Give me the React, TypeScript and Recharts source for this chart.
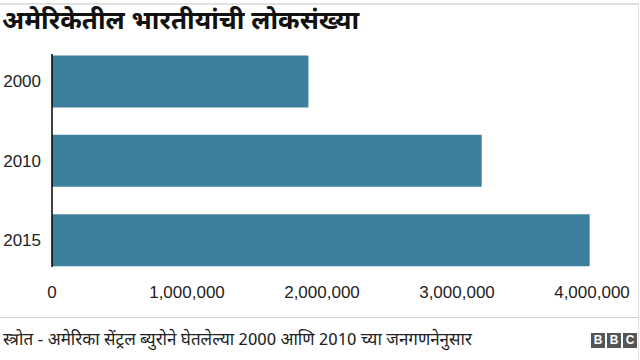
import { BarChart, Bar, XAxis, YAxis } from 'recharts';

const years = ['2000', '2010', '2015'];
const population = [1899599, 3183063, 3982398];
const xTicks = [0, 1000000, 2000000, 3000000, 4000000];

const TITLE = 'अमेरिकेतील भारतीयांची लोकसंख्या';
const SOURCE = 'स्त्रोत - अमेरिका सेंट्रल ब्युरोने घेतलेल्या 2000 आणि 2010 च्या जनगणनेनुसार';

const data = years.map((year, i) => ({ year, value: population[i] }));

const deva = '"Noto Sans Devanagari", "Noto Sans", "Liberation Sans", Arial, sans-serif';
const latin = '"Liberation Sans", Arial, Helvetica, sans-serif';

function BbcLogo() {
  return (
    <div style={{ position: 'absolute', left: 591, top: 333, display: 'flex', gap: 2 }}>
      {['B', 'B', 'C'].map((ch, i) => (
        <div
          key={i}
          style={{
            width: 14,
            height: 15,
            background: '#555',
            color: '#fff',
            fontFamily: latin,
            fontWeight: 700,
            fontSize: 12,
            lineHeight: '15px',
            textAlign: 'center',
          }}
        >
          {ch}
        </div>
      ))}
    </div>
  );
}

export default function App() {
  return (
    <div
      style={{
        position: 'absolute',
        left: 0,
        top: 0,
        width: 640,
        height: 360,
        background: '#fff',
        overflow: 'hidden',
      }}
    >
      {/* frame lines */}
      <div style={{ position: 'absolute', left: 0, top: 3, width: 639, height: 2, background: '#e0e0e0' }} />
      <div style={{ position: 'absolute', left: 638, top: 3, width: 1, height: 357, background: '#e0e0e0' }} />

      <div
        style={{
          position: 'absolute',
          left: 2,
          top: 4,
          fontFamily: deva,
          fontWeight: 700,
          fontSize: 26,
          lineHeight: '38px',
          color: '#111',
          whiteSpace: 'nowrap',
        }}
      >
        {TITLE}
      </div>

      <div style={{ position: 'absolute', left: 0, top: 0 }}>
        <BarChart
          width={640}
          height={312}
          data={data}
          layout="vertical"
          margin={{ top: 54, right: 48, left: 0, bottom: 12 }}
        >
          <XAxis
            type="number"
            dataKey="value"
            domain={[0, 4000000]}
            ticks={xTicks}
            interval={0}
            tickFormatter={(v: number) => v.toLocaleString('en-US')}
            axisLine={false}
            tickLine={false}
            tickSize={0}
            tickMargin={19}
            height={33}
            tick={{ fill: '#222', fontSize: 17, fontFamily: latin }}
          />
          <YAxis
            type="category"
            dataKey="year"
            width={52}
            axisLine={{ stroke: '#000', strokeWidth: 1.5 }}
            tickLine={false}
            tickSize={0}
            tickMargin={11}
            padding={{ top: -12.5, bottom: -12.5 }}
            tick={{ fill: '#222', fontSize: 17, fontFamily: latin }}
          />
          <Bar dataKey="value" fill="#3d7f9c" barSize={52} isAnimationActive={false} />
        </BarChart>
      </div>

      <div style={{ position: 'absolute', left: 0, top: 317, width: 639, height: 1, background: '#cfcfcf' }} />

      <div
        style={{
          position: 'absolute',
          left: 3,
          top: 330,
          fontFamily: deva,
          fontSize: 17,
          lineHeight: '22px',
          color: '#222',
          whiteSpace: 'nowrap',
        }}
      >
        {SOURCE}
      </div>

      <BbcLogo />
    </div>
  );
}
